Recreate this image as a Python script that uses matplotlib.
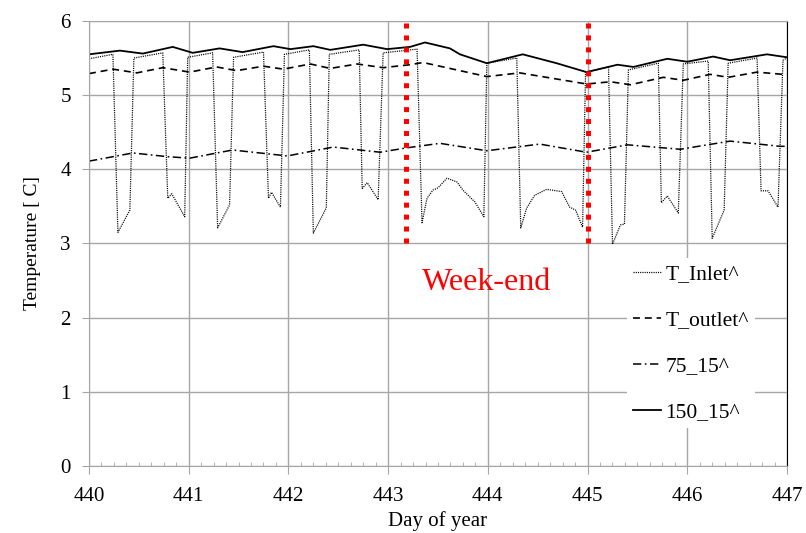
import matplotlib
matplotlib.use("Agg")
import matplotlib.pyplot as plt
from matplotlib.ticker import MultipleLocator

plt.rcParams['font.family'] = ['Liberation Serif', 'DejaVu Serif']
plt.rcParams['lines.scale_dashes'] = False

# T_Inlet^ (dotted) - sharp drops twice a day, long dips on the week-end
t_inlet = [440.00, 440.24, 440.29, 440.41, 440.45, 440.74, 440.79, 440.83, 440.96, 440.99,
           441.24, 441.29, 441.41, 441.45, 441.75, 441.80, 441.83, 441.92, 441.96,
           442.21, 442.25, 442.38, 442.41, 442.71, 442.74, 442.79, 442.90, 442.95,
           443.29, 443.34, 443.39, 443.45, 443.50, 443.59, 443.69, 443.75, 443.87, 443.96, 443.99,
           444.29, 444.33, 444.39, 444.47, 444.59, 444.74, 444.82, 444.88, 444.95, 444.98,
           445.21, 445.25, 445.33, 445.37, 445.41, 445.71, 445.74, 445.80, 445.91, 445.96,
           446.21, 446.25, 446.37, 446.41, 446.70, 446.74, 446.81, 446.91, 446.96, 447.00]
v_inlet = [5.49, 5.55, 3.15, 3.45, 5.50, 5.57, 3.61, 3.67, 3.36, 5.51,
           5.57, 3.21, 3.52, 5.51, 5.58, 3.61, 3.69, 3.49, 5.55,
           5.61, 3.14, 3.48, 5.55, 5.61, 3.74, 3.82, 3.59, 5.57,
           5.62, 3.28, 3.61, 3.72, 3.75, 3.88, 3.83, 3.72, 3.56, 3.36, 5.43,
           5.50, 3.21, 3.48, 3.65, 3.73, 3.70, 3.49, 3.45, 3.22, 5.31,
           5.38, 2.99, 3.25, 3.26, 5.34, 5.43, 3.55, 3.64, 3.41, 5.42,
           5.46, 3.07, 3.45, 5.43, 5.50, 3.71, 3.71, 3.49, 5.47, 5.50]

# T_outlet^ (dashed)
t_outlet = [440.00, 440.24, 440.48, 440.74, 441.01, 441.28, 441.48, 441.75, 441.95,
            442.22, 442.42, 442.69, 442.95, 443.22, 443.35, 443.99, 444.32, 444.99,
            445.23, 445.43, 445.76, 445.96, 446.23, 446.41, 446.70, 446.96, 447.00]
v_outlet = [5.29, 5.35, 5.30, 5.37, 5.31, 5.38, 5.33, 5.39, 5.35,
            5.42, 5.36, 5.42, 5.37, 5.41, 5.44, 5.25, 5.30, 5.15,
            5.18, 5.14, 5.24, 5.20, 5.28, 5.24, 5.31, 5.28, 5.28]

# 75_15^ (dash-dot)
t_75 = [440.00, 440.44, 440.79, 441.01, 441.44, 441.99, 442.45, 442.92, 443.19, 443.52,
        443.99, 444.52, 444.99, 445.40, 445.93, 446.43, 446.93, 447.00]
v_75 = [4.11, 4.22, 4.17, 4.15, 4.26, 4.18, 4.30, 4.23, 4.29, 4.35,
        4.25, 4.34, 4.23, 4.33, 4.27, 4.38, 4.31, 4.31]

# 150_15^ (solid)
t_150 = [440.00, 440.31, 440.54, 440.84, 441.04, 441.31, 441.54, 441.85, 442.02, 442.25,
         442.42, 442.75, 442.99, 443.22, 443.37, 443.62, 443.72, 443.99, 444.35, 444.69,
         444.99, 445.30, 445.46, 445.80, 446.00, 446.26, 446.43, 446.80, 447.00]
v_150 = [5.55, 5.60, 5.56, 5.65, 5.57, 5.63, 5.58, 5.66, 5.62, 5.66,
         5.61, 5.68, 5.62, 5.65, 5.71, 5.63, 5.55, 5.43, 5.55, 5.43,
         5.31, 5.41, 5.38, 5.49, 5.45, 5.52, 5.47, 5.55, 5.51]

weekend_marks = [443.18, 445.0]
weekend_label = "Week-end"

fig = plt.figure(figsize=(8.06, 5.33), dpi=100)
ax = fig.add_axes([0.1104, 0.1257, 0.866, 0.835])

ax.plot(t_inlet, v_inlet, color="black", lw=0.9, linestyle=(0, (0.8, 0.8)), label="T_Inlet^")
ax.plot(t_outlet, v_outlet, color="black", lw=1.2, linestyle=(0, (5, 3.5)), label="T_outlet^")
ax.plot(t_75, v_75, color="black", lw=1.1, linestyle=(0, (6, 2.5, 1.2, 2.5)), label="75_15^")
ax.plot(t_150, v_150, color="black", lw=1.3, label="150_15^")

ax.vlines(weekend_marks, 3, 6, colors="#ff0000", lw=3.6, linestyles=[(0, (3.6, 5))], zorder=5)
ax.text(443.99, 2.48, weekend_label, color="#ff0000", fontsize=23, ha="center", va="center")

ax.set_xlim(440, 447)
ax.set_ylim(0, 6)
ax.xaxis.set_major_locator(MultipleLocator(1))
ax.xaxis.set_minor_locator(MultipleLocator(0.125))
ax.yaxis.set_major_locator(MultipleLocator(1))
ax.grid(True, which="major", color="#a6a6a6", lw=1)
ax.set_axisbelow(True)

ax.tick_params(axis="x", which="major", direction="out", length=6, color="#a6a6a6", labelsize=15, pad=9)
ax.tick_params(axis="x", which="minor", direction="in", length=3, color="#a6a6a6")
ax.tick_params(axis="y", which="major", direction="out", length=5, color="#a6a6a6", labelsize=15, pad=8)

for side in ["left", "bottom", "top"]:
    ax.spines[side].set_color("#a6a6a6")
ax.spines["right"].set_color("black")

ax.set_xlabel("Day of year", fontsize=15, labelpad=4)
ax.set_ylabel("Temperature [ C]", fontsize=14, labelpad=14)

leg = ax.legend(loc="upper left", bbox_to_anchor=(0.755, 0.492), fontsize=15.5,
                frameon=True, fancybox=False, edgecolor="none", facecolor="white",
                framealpha=1, handlelength=1.3, handletextpad=0.2, labelspacing=1.2,
                borderpad=0.3)

fig.savefig("out.png", dpi=100)
